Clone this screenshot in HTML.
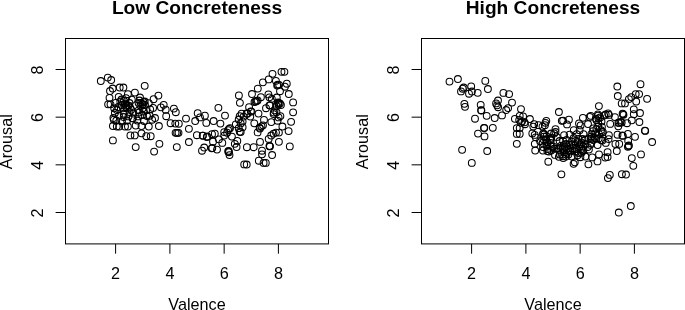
<!DOCTYPE html>
<html><head><meta charset="utf-8"><title>Valence and Arousal by Concreteness</title>
<style>
html,body{margin:0;padding:0;background:#fff;}
body{width:685px;height:310px;overflow:hidden;}
svg{display:block;font-family:"Liberation Sans",Arial,Helvetica,sans-serif;fill:#000;}
</style></head><body>
<svg width="685" height="310" viewBox="0 0 685 310">
<rect width="685" height="310" fill="#fff"/>
<rect x="65.50" y="38.50" width="263.00" height="205.40" fill="none" stroke="#000" stroke-width="1"/>
<line x1="115.60" y1="243.90" x2="115.60" y2="253.70" stroke="#000" stroke-width="1"/>
<text x="115.60" y="278.9" text-anchor="middle" font-size="16.2">2</text>
<line x1="169.90" y1="243.90" x2="169.90" y2="253.70" stroke="#000" stroke-width="1"/>
<text x="169.90" y="278.9" text-anchor="middle" font-size="16.2">4</text>
<line x1="224.15" y1="243.90" x2="224.15" y2="253.70" stroke="#000" stroke-width="1"/>
<text x="224.15" y="278.9" text-anchor="middle" font-size="16.2">6</text>
<line x1="278.40" y1="243.90" x2="278.40" y2="253.70" stroke="#000" stroke-width="1"/>
<text x="278.40" y="278.9" text-anchor="middle" font-size="16.2">8</text>
<line x1="65.50" y1="212.50" x2="55.60" y2="212.50" stroke="#000" stroke-width="1"/>
<text transform="translate(43.30,212.90) rotate(-90)" text-anchor="middle" font-size="16.2">2</text>
<line x1="65.50" y1="164.83" x2="55.60" y2="164.83" stroke="#000" stroke-width="1"/>
<text transform="translate(43.30,165.23) rotate(-90)" text-anchor="middle" font-size="16.2">4</text>
<line x1="65.50" y1="117.17" x2="55.60" y2="117.17" stroke="#000" stroke-width="1"/>
<text transform="translate(43.30,117.57) rotate(-90)" text-anchor="middle" font-size="16.2">6</text>
<line x1="65.50" y1="69.50" x2="55.60" y2="69.50" stroke="#000" stroke-width="1"/>
<text transform="translate(43.30,69.90) rotate(-90)" text-anchor="middle" font-size="16.2">8</text>
<text x="197.00" y="13.8" text-anchor="middle" font-size="19.15" font-weight="bold">Low Concreteness</text>
<text x="197.00" y="309.8" text-anchor="middle" font-size="16.2">Valence</text>
<text transform="translate(12.40,141.70) rotate(-90)" text-anchor="middle" font-size="16.2">Arousal</text>
<g fill="none" stroke="#000" stroke-width="1.05">
<circle cx="100.8" cy="81.0" r="3.4"/>
<circle cx="107.8" cy="77.6" r="3.4"/>
<circle cx="111.2" cy="80.0" r="3.4"/>
<circle cx="144.7" cy="85.8" r="3.4"/>
<circle cx="112.7" cy="88.5" r="3.4"/>
<circle cx="110.0" cy="91.0" r="3.4"/>
<circle cx="119.7" cy="87.5" r="3.4"/>
<circle cx="123.4" cy="87.5" r="3.4"/>
<circle cx="134.9" cy="92.6" r="3.4"/>
<circle cx="127.9" cy="94.2" r="3.4"/>
<circle cx="158.4" cy="95.6" r="3.4"/>
<circle cx="118.7" cy="96.8" r="3.4"/>
<circle cx="140.0" cy="97.5" r="3.4"/>
<circle cx="109.5" cy="97.8" r="3.4"/>
<circle cx="153.6" cy="99.2" r="3.4"/>
<circle cx="131.8" cy="99.7" r="3.4"/>
<circle cx="108.1" cy="104.3" r="3.4"/>
<circle cx="110.5" cy="104.3" r="3.4"/>
<circle cx="148.8" cy="103.1" r="3.4"/>
<circle cx="160.9" cy="107.3" r="3.4"/>
<circle cx="150.2" cy="109.4" r="3.4"/>
<circle cx="153.1" cy="107.9" r="3.4"/>
<circle cx="138.6" cy="110.3" r="3.4"/>
<circle cx="155.0" cy="118.0" r="3.4"/>
<circle cx="149.7" cy="115.7" r="3.4"/>
<circle cx="113.4" cy="118.0" r="3.4"/>
<circle cx="112.9" cy="140.4" r="3.4"/>
<circle cx="158.9" cy="126.0" r="3.4"/>
<circle cx="159.4" cy="143.8" r="3.4"/>
<circle cx="130.4" cy="135.4" r="3.4"/>
<circle cx="134.7" cy="135.4" r="3.4"/>
<circle cx="141.5" cy="133.3" r="3.4"/>
<circle cx="146.3" cy="136.2" r="3.4"/>
<circle cx="150.7" cy="136.2" r="3.4"/>
<circle cx="112.9" cy="126.0" r="3.4"/>
<circle cx="116.8" cy="126.5" r="3.4"/>
<circle cx="119.2" cy="126.5" r="3.4"/>
<circle cx="125.0" cy="126.5" r="3.4"/>
<circle cx="127.9" cy="126.5" r="3.4"/>
<circle cx="148.8" cy="126.5" r="3.4"/>
<circle cx="152.1" cy="119.7" r="3.4"/>
<circle cx="141.5" cy="126.0" r="3.4"/>
<circle cx="135.7" cy="125.5" r="3.4"/>
<circle cx="113.9" cy="119.7" r="3.4"/>
<circle cx="132.8" cy="118.3" r="3.4"/>
<circle cx="135.7" cy="147.1" r="3.4"/>
<circle cx="154.1" cy="151.6" r="3.4"/>
<circle cx="163.7" cy="104.8" r="3.4"/>
<circle cx="165.7" cy="109.7" r="3.4"/>
<circle cx="173.9" cy="108.6" r="3.4"/>
<circle cx="175.8" cy="112.2" r="3.4"/>
<circle cx="197.7" cy="113.2" r="3.4"/>
<circle cx="204.9" cy="115.7" r="3.4"/>
<circle cx="218.4" cy="107.8" r="3.4"/>
<circle cx="166.2" cy="116.2" r="3.4"/>
<circle cx="170.6" cy="123.2" r="3.4"/>
<circle cx="175.3" cy="123.6" r="3.4"/>
<circle cx="178.8" cy="123.7" r="3.4"/>
<circle cx="186.0" cy="118.6" r="3.4"/>
<circle cx="200.0" cy="117.4" r="3.4"/>
<circle cx="195.2" cy="121.0" r="3.4"/>
<circle cx="206.3" cy="122.9" r="3.4"/>
<circle cx="213.6" cy="121.0" r="3.4"/>
<circle cx="220.4" cy="123.6" r="3.4"/>
<circle cx="188.9" cy="128.8" r="3.4"/>
<circle cx="175.6" cy="132.8" r="3.4"/>
<circle cx="177.1" cy="132.9" r="3.4"/>
<circle cx="178.5" cy="132.8" r="3.4"/>
<circle cx="196.9" cy="135.2" r="3.4"/>
<circle cx="202.7" cy="135.7" r="3.4"/>
<circle cx="206.8" cy="137.0" r="3.4"/>
<circle cx="212.0" cy="134.2" r="3.4"/>
<circle cx="214.8" cy="133.7" r="3.4"/>
<circle cx="218.9" cy="139.3" r="3.4"/>
<circle cx="213.0" cy="141.7" r="3.4"/>
<circle cx="176.8" cy="147.1" r="3.4"/>
<circle cx="188.9" cy="142.0" r="3.4"/>
<circle cx="204.2" cy="147.5" r="3.4"/>
<circle cx="202.0" cy="150.7" r="3.4"/>
<circle cx="211.7" cy="148.3" r="3.4"/>
<circle cx="217.0" cy="149.6" r="3.4"/>
<circle cx="281.5" cy="71.8" r="3.4"/>
<circle cx="284.4" cy="71.8" r="3.4"/>
<circle cx="272.5" cy="73.8" r="3.4"/>
<circle cx="268.7" cy="79.4" r="3.4"/>
<circle cx="262.9" cy="82.3" r="3.4"/>
<circle cx="257.8" cy="88.6" r="3.4"/>
<circle cx="275.9" cy="80.8" r="3.4"/>
<circle cx="286.8" cy="83.7" r="3.4"/>
<circle cx="277.6" cy="84.7" r="3.4"/>
<circle cx="279.1" cy="84.8" r="3.4"/>
<circle cx="252.0" cy="94.0" r="3.4"/>
<circle cx="238.9" cy="95.4" r="3.4"/>
<circle cx="239.9" cy="102.8" r="3.4"/>
<circle cx="249.1" cy="107.2" r="3.4"/>
<circle cx="284.9" cy="86.7" r="3.4"/>
<circle cx="280.0" cy="91.2" r="3.4"/>
<circle cx="288.8" cy="94.0" r="3.4"/>
<circle cx="293.1" cy="102.4" r="3.4"/>
<circle cx="268.4" cy="94.4" r="3.4"/>
<circle cx="269.4" cy="97.3" r="3.4"/>
<circle cx="271.8" cy="98.8" r="3.4"/>
<circle cx="276.8" cy="97.5" r="3.4"/>
<circle cx="266.0" cy="108.2" r="3.4"/>
<circle cx="278.0" cy="102.5" r="3.4"/>
<circle cx="279.9" cy="103.5" r="3.4"/>
<circle cx="278.5" cy="104.5" r="3.4"/>
<circle cx="280.9" cy="105.0" r="3.4"/>
<circle cx="276.5" cy="106.0" r="3.4"/>
<circle cx="278.6" cy="103.2" r="3.4"/>
<circle cx="293.1" cy="112.3" r="3.4"/>
<circle cx="291.1" cy="121.8" r="3.4"/>
<circle cx="269.4" cy="105.3" r="3.4"/>
<circle cx="258.5" cy="113.6" r="3.4"/>
<circle cx="264.0" cy="119.9" r="3.4"/>
<circle cx="254.3" cy="123.3" r="3.4"/>
<circle cx="282.4" cy="126.5" r="3.4"/>
<circle cx="271.3" cy="122.1" r="3.4"/>
<circle cx="278.6" cy="117.4" r="3.4"/>
<circle cx="277.6" cy="120.7" r="3.4"/>
<circle cx="273.8" cy="112.5" r="3.4"/>
<circle cx="251.5" cy="111.6" r="3.4"/>
<circle cx="274.6" cy="110.3" r="3.4"/>
<circle cx="276.5" cy="112.2" r="3.4"/>
<circle cx="273.6" cy="114.1" r="3.4"/>
<circle cx="280.4" cy="116.1" r="3.4"/>
<circle cx="270.2" cy="105.4" r="3.4"/>
<circle cx="225.0" cy="115.6" r="3.4"/>
<circle cx="250.8" cy="111.3" r="3.4"/>
<circle cx="247.4" cy="113.7" r="3.4"/>
<circle cx="241.6" cy="113.7" r="3.4"/>
<circle cx="239.7" cy="116.1" r="3.4"/>
<circle cx="243.6" cy="116.6" r="3.4"/>
<circle cx="250.3" cy="116.6" r="3.4"/>
<circle cx="238.7" cy="119.5" r="3.4"/>
<circle cx="242.6" cy="121.4" r="3.4"/>
<circle cx="240.7" cy="123.4" r="3.4"/>
<circle cx="235.8" cy="124.3" r="3.4"/>
<circle cx="242.6" cy="127.2" r="3.4"/>
<circle cx="238.7" cy="128.2" r="3.4"/>
<circle cx="230.0" cy="128.2" r="3.4"/>
<circle cx="228.1" cy="130.1" r="3.4"/>
<circle cx="224.2" cy="132.1" r="3.4"/>
<circle cx="240.7" cy="132.1" r="3.4"/>
<circle cx="246.6" cy="113.5" r="3.4"/>
<circle cx="259.6" cy="127.7" r="3.4"/>
<circle cx="261.5" cy="126.3" r="3.4"/>
<circle cx="263.0" cy="125.3" r="3.4"/>
<circle cx="260.0" cy="128.5" r="3.4"/>
<circle cx="246.9" cy="147.2" r="3.4"/>
<circle cx="253.7" cy="147.2" r="3.4"/>
<circle cx="260.0" cy="141.9" r="3.4"/>
<circle cx="257.6" cy="132.4" r="3.4"/>
<circle cx="229.0" cy="128.8" r="3.4"/>
<circle cx="239.7" cy="131.7" r="3.4"/>
<circle cx="231.9" cy="136.6" r="3.4"/>
<circle cx="224.2" cy="135.6" r="3.4"/>
<circle cx="227.1" cy="132.7" r="3.4"/>
<circle cx="237.3" cy="140.9" r="3.4"/>
<circle cx="234.8" cy="143.8" r="3.4"/>
<circle cx="236.6" cy="147.0" r="3.4"/>
<circle cx="202.9" cy="135.6" r="3.4"/>
<circle cx="222.3" cy="142.9" r="3.4"/>
<circle cx="228.6" cy="150.8" r="3.4"/>
<circle cx="229.0" cy="152.2" r="3.4"/>
<circle cx="229.5" cy="155.1" r="3.4"/>
<circle cx="228.2" cy="151.5" r="3.4"/>
<circle cx="244.2" cy="164.4" r="3.4"/>
<circle cx="246.7" cy="164.5" r="3.4"/>
<circle cx="262.0" cy="150.7" r="3.4"/>
<circle cx="262.0" cy="154.3" r="3.4"/>
<circle cx="258.8" cy="160.7" r="3.4"/>
<circle cx="263.6" cy="162.9" r="3.4"/>
<circle cx="265.8" cy="162.9" r="3.4"/>
<circle cx="272.1" cy="155.0" r="3.4"/>
<circle cx="288.6" cy="131.1" r="3.4"/>
<circle cx="278.9" cy="141.8" r="3.4"/>
<circle cx="289.8" cy="146.4" r="3.4"/>
<circle cx="278.9" cy="132.6" r="3.4"/>
<circle cx="276.0" cy="132.6" r="3.4"/>
<circle cx="273.6" cy="133.6" r="3.4"/>
<circle cx="271.2" cy="135.5" r="3.4"/>
<circle cx="268.7" cy="138.9" r="3.4"/>
<circle cx="269.7" cy="146.1" r="3.4"/>
<circle cx="269.9" cy="146.4" r="3.4"/>
<circle cx="115.6" cy="102.9" r="3.4"/>
<circle cx="120.3" cy="101.5" r="3.4"/>
<circle cx="125.1" cy="103.6" r="3.4"/>
<circle cx="128.5" cy="105.6" r="3.4"/>
<circle cx="138.6" cy="102.9" r="3.4"/>
<circle cx="142.7" cy="104.2" r="3.4"/>
<circle cx="144.7" cy="101.5" r="3.4"/>
<circle cx="114.2" cy="108.3" r="3.4"/>
<circle cx="118.3" cy="107.0" r="3.4"/>
<circle cx="123.0" cy="108.3" r="3.4"/>
<circle cx="127.1" cy="108.3" r="3.4"/>
<circle cx="131.2" cy="109.7" r="3.4"/>
<circle cx="142.7" cy="108.3" r="3.4"/>
<circle cx="146.1" cy="110.3" r="3.4"/>
<circle cx="124.0" cy="101.0" r="3.4"/>
<circle cx="126.5" cy="105.5" r="3.4"/>
<circle cx="129.5" cy="103.0" r="3.4"/>
<circle cx="126.0" cy="107.0" r="3.4"/>
<circle cx="130.0" cy="107.5" r="3.4"/>
<circle cx="139.5" cy="100.5" r="3.4"/>
<circle cx="141.0" cy="103.0" r="3.4"/>
<circle cx="143.5" cy="102.0" r="3.4"/>
<circle cx="140.5" cy="105.5" r="3.4"/>
<circle cx="145.0" cy="105.0" r="3.4"/>
<circle cx="117.0" cy="110.0" r="3.4"/>
<circle cx="121.5" cy="105.0" r="3.4"/>
<circle cx="114.9" cy="113.0" r="3.4"/>
<circle cx="123.7" cy="113.7" r="3.4"/>
<circle cx="129.5" cy="112.0" r="3.4"/>
<circle cx="133.5" cy="113.5" r="3.4"/>
<circle cx="139.0" cy="112.5" r="3.4"/>
<circle cx="143.5" cy="111.5" r="3.4"/>
<circle cx="119.0" cy="115.5" r="3.4"/>
<circle cx="123.7" cy="117.0" r="3.4"/>
<circle cx="128.5" cy="116.4" r="3.4"/>
<circle cx="132.4" cy="118.3" r="3.4"/>
<circle cx="138.3" cy="116.4" r="3.4"/>
<circle cx="142.1" cy="115.0" r="3.4"/>
<circle cx="147.0" cy="116.0" r="3.4"/>
<circle cx="116.3" cy="120.5" r="3.4"/>
<circle cx="122.0" cy="121.5" r="3.4"/>
<circle cx="127.1" cy="120.5" r="3.4"/>
<circle cx="137.3" cy="120.5" r="3.4"/>
<circle cx="144.0" cy="121.0" r="3.4"/>
<circle cx="254.5" cy="102.0" r="3.4"/>
<circle cx="255.6" cy="101.4" r="3.4"/>
<circle cx="256.6" cy="101.0" r="3.4"/>
<circle cx="257.6" cy="100.4" r="3.4"/>
<circle cx="260.9" cy="97.2" r="3.4"/>
<circle cx="277.2" cy="85.6" r="3.4"/>
<circle cx="207.3" cy="136.4" r="3.4"/>
<circle cx="212.3" cy="148.0" r="3.4"/>
<circle cx="269.5" cy="146.0" r="3.4"/>
<circle cx="121.5" cy="99.5" r="3.4"/>
<circle cx="126.0" cy="98.2" r="3.4"/>
</g>
<rect x="421.50" y="38.50" width="263.00" height="205.40" fill="none" stroke="#000" stroke-width="1"/>
<line x1="471.60" y1="243.90" x2="471.60" y2="253.70" stroke="#000" stroke-width="1"/>
<text x="471.60" y="278.9" text-anchor="middle" font-size="16.2">2</text>
<line x1="525.90" y1="243.90" x2="525.90" y2="253.70" stroke="#000" stroke-width="1"/>
<text x="525.90" y="278.9" text-anchor="middle" font-size="16.2">4</text>
<line x1="580.15" y1="243.90" x2="580.15" y2="253.70" stroke="#000" stroke-width="1"/>
<text x="580.15" y="278.9" text-anchor="middle" font-size="16.2">6</text>
<line x1="634.40" y1="243.90" x2="634.40" y2="253.70" stroke="#000" stroke-width="1"/>
<text x="634.40" y="278.9" text-anchor="middle" font-size="16.2">8</text>
<line x1="421.50" y1="212.50" x2="411.60" y2="212.50" stroke="#000" stroke-width="1"/>
<text transform="translate(399.30,212.90) rotate(-90)" text-anchor="middle" font-size="16.2">2</text>
<line x1="421.50" y1="164.83" x2="411.60" y2="164.83" stroke="#000" stroke-width="1"/>
<text transform="translate(399.30,165.23) rotate(-90)" text-anchor="middle" font-size="16.2">4</text>
<line x1="421.50" y1="117.17" x2="411.60" y2="117.17" stroke="#000" stroke-width="1"/>
<text transform="translate(399.30,117.57) rotate(-90)" text-anchor="middle" font-size="16.2">6</text>
<line x1="421.50" y1="69.50" x2="411.60" y2="69.50" stroke="#000" stroke-width="1"/>
<text transform="translate(399.30,69.90) rotate(-90)" text-anchor="middle" font-size="16.2">8</text>
<text x="553.00" y="13.8" text-anchor="middle" font-size="19.15" font-weight="bold">High Concreteness</text>
<text x="553.00" y="309.8" text-anchor="middle" font-size="16.2">Valence</text>
<text transform="translate(368.40,141.70) rotate(-90)" text-anchor="middle" font-size="16.2">Arousal</text>
<g fill="none" stroke="#000" stroke-width="1.05">
<circle cx="449.5" cy="81.6" r="3.4"/>
<circle cx="457.9" cy="79.0" r="3.4"/>
<circle cx="485.3" cy="80.9" r="3.4"/>
<circle cx="487.9" cy="89.0" r="3.4"/>
<circle cx="471.2" cy="86.3" r="3.4"/>
<circle cx="463.7" cy="87.5" r="3.4"/>
<circle cx="462.7" cy="88.7" r="3.4"/>
<circle cx="461.0" cy="91.4" r="3.4"/>
<circle cx="471.9" cy="91.5" r="3.4"/>
<circle cx="469.0" cy="93.7" r="3.4"/>
<circle cx="477.7" cy="92.8" r="3.4"/>
<circle cx="503.4" cy="92.9" r="3.4"/>
<circle cx="464.4" cy="103.8" r="3.4"/>
<circle cx="465.0" cy="106.8" r="3.4"/>
<circle cx="480.7" cy="104.8" r="3.4"/>
<circle cx="481.1" cy="110.2" r="3.4"/>
<circle cx="481.4" cy="110.5" r="3.4"/>
<circle cx="498.0" cy="100.5" r="3.4"/>
<circle cx="496.1" cy="103.4" r="3.4"/>
<circle cx="497.1" cy="105.3" r="3.4"/>
<circle cx="498.1" cy="107.2" r="3.4"/>
<circle cx="475.0" cy="118.7" r="3.4"/>
<circle cx="486.7" cy="115.8" r="3.4"/>
<circle cx="494.7" cy="118.0" r="3.4"/>
<circle cx="502.0" cy="115.4" r="3.4"/>
<circle cx="484.0" cy="127.8" r="3.4"/>
<circle cx="484.3" cy="128.0" r="3.4"/>
<circle cx="492.8" cy="127.8" r="3.4"/>
<circle cx="478.0" cy="133.6" r="3.4"/>
<circle cx="484.5" cy="136.4" r="3.4"/>
<circle cx="462.1" cy="149.8" r="3.4"/>
<circle cx="487.2" cy="151.0" r="3.4"/>
<circle cx="471.8" cy="162.9" r="3.4"/>
<circle cx="509.1" cy="94.1" r="3.4"/>
<circle cx="512.0" cy="102.6" r="3.4"/>
<circle cx="508.1" cy="108.1" r="3.4"/>
<circle cx="506.2" cy="110.0" r="3.4"/>
<circle cx="521.0" cy="109.1" r="3.4"/>
<circle cx="514.9" cy="118.8" r="3.4"/>
<circle cx="519.7" cy="115.8" r="3.4"/>
<circle cx="523.1" cy="116.3" r="3.4"/>
<circle cx="529.9" cy="119.0" r="3.4"/>
<circle cx="534.2" cy="124.2" r="3.4"/>
<circle cx="558.9" cy="112.0" r="3.4"/>
<circle cx="561.8" cy="120.8" r="3.4"/>
<circle cx="519.2" cy="119.9" r="3.4"/>
<circle cx="522.1" cy="121.3" r="3.4"/>
<circle cx="524.6" cy="122.3" r="3.4"/>
<circle cx="525.0" cy="124.2" r="3.4"/>
<circle cx="521.0" cy="122.8" r="3.4"/>
<circle cx="516.8" cy="128.1" r="3.4"/>
<circle cx="519.7" cy="128.1" r="3.4"/>
<circle cx="516.8" cy="133.9" r="3.4"/>
<circle cx="519.7" cy="133.9" r="3.4"/>
<circle cx="516.8" cy="143.8" r="3.4"/>
<circle cx="533.3" cy="126.6" r="3.4"/>
<circle cx="538.6" cy="125.2" r="3.4"/>
<circle cx="546.3" cy="120.8" r="3.4"/>
<circle cx="545.4" cy="122.8" r="3.4"/>
<circle cx="544.9" cy="125.2" r="3.4"/>
<circle cx="542.5" cy="126.6" r="3.4"/>
<circle cx="532.3" cy="133.4" r="3.4"/>
<circle cx="534.7" cy="134.9" r="3.4"/>
<circle cx="535.7" cy="137.3" r="3.4"/>
<circle cx="534.8" cy="143.8" r="3.4"/>
<circle cx="543.4" cy="133.4" r="3.4"/>
<circle cx="544.4" cy="134.4" r="3.4"/>
<circle cx="543.0" cy="134.0" r="3.4"/>
<circle cx="543.4" cy="139.2" r="3.4"/>
<circle cx="555.5" cy="129.1" r="3.4"/>
<circle cx="555.5" cy="132.0" r="3.4"/>
<circle cx="554.1" cy="133.4" r="3.4"/>
<circle cx="551.2" cy="137.8" r="3.4"/>
<circle cx="550.2" cy="140.2" r="3.4"/>
<circle cx="551.0" cy="139.0" r="3.4"/>
<circle cx="535.2" cy="150.5" r="3.4"/>
<circle cx="548.3" cy="161.7" r="3.4"/>
<circle cx="542.9" cy="150.5" r="3.4"/>
<circle cx="547.3" cy="151.0" r="3.4"/>
<circle cx="548.8" cy="151.5" r="3.4"/>
<circle cx="555.0" cy="154.9" r="3.4"/>
<circle cx="558.9" cy="156.8" r="3.4"/>
<circle cx="554.1" cy="148.6" r="3.4"/>
<circle cx="546.6" cy="136.1" r="3.4"/>
<circle cx="542.7" cy="142.9" r="3.4"/>
<circle cx="546.6" cy="145.8" r="3.4"/>
<circle cx="547.6" cy="149.0" r="3.4"/>
<circle cx="563.1" cy="120.6" r="3.4"/>
<circle cx="568.9" cy="119.7" r="3.4"/>
<circle cx="567.0" cy="124.4" r="3.4"/>
<circle cx="553.4" cy="146.7" r="3.4"/>
<circle cx="556.3" cy="148.7" r="3.4"/>
<circle cx="564.1" cy="135.1" r="3.4"/>
<circle cx="563.1" cy="140.9" r="3.4"/>
<circle cx="566.0" cy="143.8" r="3.4"/>
<circle cx="567.0" cy="148.7" r="3.4"/>
<circle cx="569.9" cy="151.6" r="3.4"/>
<circle cx="566.0" cy="156.5" r="3.4"/>
<circle cx="571.8" cy="156.5" r="3.4"/>
<circle cx="574.8" cy="162.3" r="3.4"/>
<circle cx="573.8" cy="130.2" r="3.4"/>
<circle cx="576.7" cy="134.1" r="3.4"/>
<circle cx="573.8" cy="138.0" r="3.4"/>
<circle cx="577.7" cy="141.9" r="3.4"/>
<circle cx="573.8" cy="145.8" r="3.4"/>
<circle cx="579.6" cy="146.7" r="3.4"/>
<circle cx="579.0" cy="123.4" r="3.4"/>
<circle cx="580.6" cy="125.4" r="3.4"/>
<circle cx="582.9" cy="117.8" r="3.4"/>
<circle cx="579.6" cy="130.2" r="3.4"/>
<circle cx="583.5" cy="134.1" r="3.4"/>
<circle cx="582.5" cy="139.0" r="3.4"/>
<circle cx="585.4" cy="143.8" r="3.4"/>
<circle cx="583.5" cy="149.7" r="3.4"/>
<circle cx="585.4" cy="156.5" r="3.4"/>
<circle cx="588.0" cy="124.0" r="3.4"/>
<circle cx="590.7" cy="115.8" r="3.4"/>
<circle cx="589.7" cy="116.9" r="3.4"/>
<circle cx="593.2" cy="128.3" r="3.4"/>
<circle cx="591.3" cy="134.1" r="3.4"/>
<circle cx="593.2" cy="140.0" r="3.4"/>
<circle cx="590.3" cy="144.8" r="3.4"/>
<circle cx="592.2" cy="157.4" r="3.4"/>
<circle cx="597.5" cy="161.4" r="3.4"/>
<circle cx="598.9" cy="106.1" r="3.4"/>
<circle cx="597.9" cy="114.4" r="3.4"/>
<circle cx="598.4" cy="118.3" r="3.4"/>
<circle cx="596.5" cy="120.2" r="3.4"/>
<circle cx="601.0" cy="130.2" r="3.4"/>
<circle cx="602.9" cy="132.2" r="3.4"/>
<circle cx="599.0" cy="134.1" r="3.4"/>
<circle cx="601.8" cy="131.5" r="3.4"/>
<circle cx="601.0" cy="140.0" r="3.4"/>
<circle cx="605.8" cy="142.9" r="3.4"/>
<circle cx="599.0" cy="154.4" r="3.4"/>
<circle cx="605.2" cy="157.6" r="3.4"/>
<circle cx="607.6" cy="157.1" r="3.4"/>
<circle cx="604.2" cy="115.4" r="3.4"/>
<circle cx="608.1" cy="113.4" r="3.4"/>
<circle cx="609.0" cy="114.9" r="3.4"/>
<circle cx="605.7" cy="114.5" r="3.4"/>
<circle cx="610.2" cy="123.9" r="3.4"/>
<circle cx="608.9" cy="135.2" r="3.4"/>
<circle cx="608.6" cy="139.1" r="3.4"/>
<circle cx="602.3" cy="140.5" r="3.4"/>
<circle cx="614.9" cy="117.1" r="3.4"/>
<circle cx="618.4" cy="122.7" r="3.4"/>
<circle cx="621.7" cy="122.5" r="3.4"/>
<circle cx="619.2" cy="122.9" r="3.4"/>
<circle cx="618.3" cy="126.3" r="3.4"/>
<circle cx="620.6" cy="122.0" r="3.4"/>
<circle cx="623.1" cy="114.2" r="3.4"/>
<circle cx="622.6" cy="113.6" r="3.4"/>
<circle cx="623.5" cy="114.8" r="3.4"/>
<circle cx="617.5" cy="134.7" r="3.4"/>
<circle cx="622.4" cy="135.4" r="3.4"/>
<circle cx="622.8" cy="135.9" r="3.4"/>
<circle cx="615.4" cy="143.9" r="3.4"/>
<circle cx="619.2" cy="143.9" r="3.4"/>
<circle cx="616.8" cy="151.0" r="3.4"/>
<circle cx="607.6" cy="152.2" r="3.4"/>
<circle cx="627.0" cy="123.2" r="3.4"/>
<circle cx="627.9" cy="133.9" r="3.4"/>
<circle cx="628.2" cy="140.9" r="3.4"/>
<circle cx="628.9" cy="145.4" r="3.4"/>
<circle cx="627.9" cy="146.8" r="3.4"/>
<circle cx="628.5" cy="146.0" r="3.4"/>
<circle cx="631.8" cy="120.3" r="3.4"/>
<circle cx="635.0" cy="136.8" r="3.4"/>
<circle cx="639.4" cy="122.0" r="3.4"/>
<circle cx="644.9" cy="130.6" r="3.4"/>
<circle cx="645.2" cy="130.9" r="3.4"/>
<circle cx="652.1" cy="142.0" r="3.4"/>
<circle cx="641.0" cy="154.4" r="3.4"/>
<circle cx="631.8" cy="158.1" r="3.4"/>
<circle cx="633.3" cy="165.8" r="3.4"/>
<circle cx="617.3" cy="86.5" r="3.4"/>
<circle cx="640.5" cy="84.2" r="3.4"/>
<circle cx="617.8" cy="96.0" r="3.4"/>
<circle cx="635.7" cy="94.1" r="3.4"/>
<circle cx="639.1" cy="94.1" r="3.4"/>
<circle cx="621.7" cy="103.4" r="3.4"/>
<circle cx="625.0" cy="103.4" r="3.4"/>
<circle cx="628.9" cy="99.1" r="3.4"/>
<circle cx="631.3" cy="97.1" r="3.4"/>
<circle cx="636.2" cy="101.5" r="3.4"/>
<circle cx="647.1" cy="98.8" r="3.4"/>
<circle cx="633.8" cy="109.3" r="3.4"/>
<circle cx="640.0" cy="113.0" r="3.4"/>
<circle cx="633.8" cy="114.2" r="3.4"/>
<circle cx="609.8" cy="174.9" r="3.4"/>
<circle cx="607.9" cy="178.1" r="3.4"/>
<circle cx="621.9" cy="174.2" r="3.4"/>
<circle cx="626.0" cy="174.5" r="3.4"/>
<circle cx="618.8" cy="212.5" r="3.4"/>
<circle cx="630.8" cy="206.0" r="3.4"/>
<circle cx="561.4" cy="174.3" r="3.4"/>
<circle cx="573.6" cy="163.8" r="3.4"/>
<circle cx="588.4" cy="164.3" r="3.4"/>
<circle cx="569.2" cy="144.6" r="3.4"/>
<circle cx="550.7" cy="142.9" r="3.4"/>
<circle cx="581.5" cy="152.8" r="3.4"/>
<circle cx="583.1" cy="146.5" r="3.4"/>
<circle cx="551.1" cy="133.5" r="3.4"/>
<circle cx="540.1" cy="141.2" r="3.4"/>
<circle cx="568.4" cy="154.5" r="3.4"/>
<circle cx="572.5" cy="148.2" r="3.4"/>
<circle cx="569.6" cy="134.7" r="3.4"/>
<circle cx="590.9" cy="139.0" r="3.4"/>
<circle cx="596.4" cy="138.5" r="3.4"/>
<circle cx="543.0" cy="147.0" r="3.4"/>
<circle cx="544.0" cy="136.6" r="3.4"/>
<circle cx="593.0" cy="131.2" r="3.4"/>
<circle cx="551.2" cy="150.6" r="3.4"/>
<circle cx="546.0" cy="139.7" r="3.4"/>
<circle cx="591.3" cy="136.5" r="3.4"/>
<circle cx="577.6" cy="155.3" r="3.4"/>
<circle cx="563.0" cy="156.2" r="3.4"/>
<circle cx="588.9" cy="149.6" r="3.4"/>
<circle cx="562.3" cy="149.0" r="3.4"/>
<circle cx="566.8" cy="152.7" r="3.4"/>
<circle cx="597.6" cy="145.0" r="3.4"/>
<circle cx="588.2" cy="138.6" r="3.4"/>
<circle cx="580.4" cy="157.2" r="3.4"/>
<circle cx="558.8" cy="148.7" r="3.4"/>
<circle cx="598.7" cy="138.5" r="3.4"/>
<circle cx="547.4" cy="142.4" r="3.4"/>
<circle cx="581.2" cy="142.3" r="3.4"/>
<circle cx="559.8" cy="154.4" r="3.4"/>
<circle cx="598.2" cy="126.5" r="3.4"/>
<circle cx="595.2" cy="133.3" r="3.4"/>
<circle cx="556.8" cy="137.1" r="3.4"/>
<circle cx="564.0" cy="144.9" r="3.4"/>
<circle cx="578.7" cy="153.1" r="3.4"/>
<circle cx="551.3" cy="146.7" r="3.4"/>
<circle cx="571.6" cy="141.7" r="3.4"/>
<circle cx="575.0" cy="149.2" r="3.4"/>
<circle cx="585.2" cy="139.7" r="3.4"/>
<circle cx="578.4" cy="138.9" r="3.4"/>
<circle cx="559.6" cy="141.0" r="3.4"/>
<circle cx="563.3" cy="158.1" r="3.4"/>
<circle cx="574.8" cy="151.6" r="3.4"/>
<circle cx="591.1" cy="142.9" r="3.4"/>
<circle cx="566.6" cy="139.8" r="3.4"/>
<circle cx="563.9" cy="149.9" r="3.4"/>
<circle cx="587.7" cy="147.1" r="3.4"/>
<circle cx="564.5" cy="147.1" r="3.4"/>
<circle cx="601.9" cy="126.9" r="3.4"/>
<circle cx="594.8" cy="138.1" r="3.4"/>
<circle cx="596.4" cy="128.8" r="3.4"/>
<circle cx="598.0" cy="115.6" r="3.4"/>
<circle cx="600.2" cy="117.4" r="3.4"/>
<circle cx="595.8" cy="118.6" r="3.4"/>
<circle cx="601.5" cy="121.5" r="3.4"/>
<circle cx="598.3" cy="123.0" r="3.4"/>
<circle cx="564.3" cy="152.4" r="3.4"/>
<circle cx="576.5" cy="148.6" r="3.4"/>
<circle cx="565.6" cy="154.3" r="3.4"/>
<circle cx="581.0" cy="149.2" r="3.4"/>
<circle cx="573.1" cy="144.2" r="3.4"/>
<circle cx="575.2" cy="141.2" r="3.4"/>
<circle cx="580.6" cy="144.2" r="3.4"/>
<circle cx="582.8" cy="151.1" r="3.4"/>
<circle cx="560.9" cy="145.9" r="3.4"/>
</g>
</svg>
</body></html>
